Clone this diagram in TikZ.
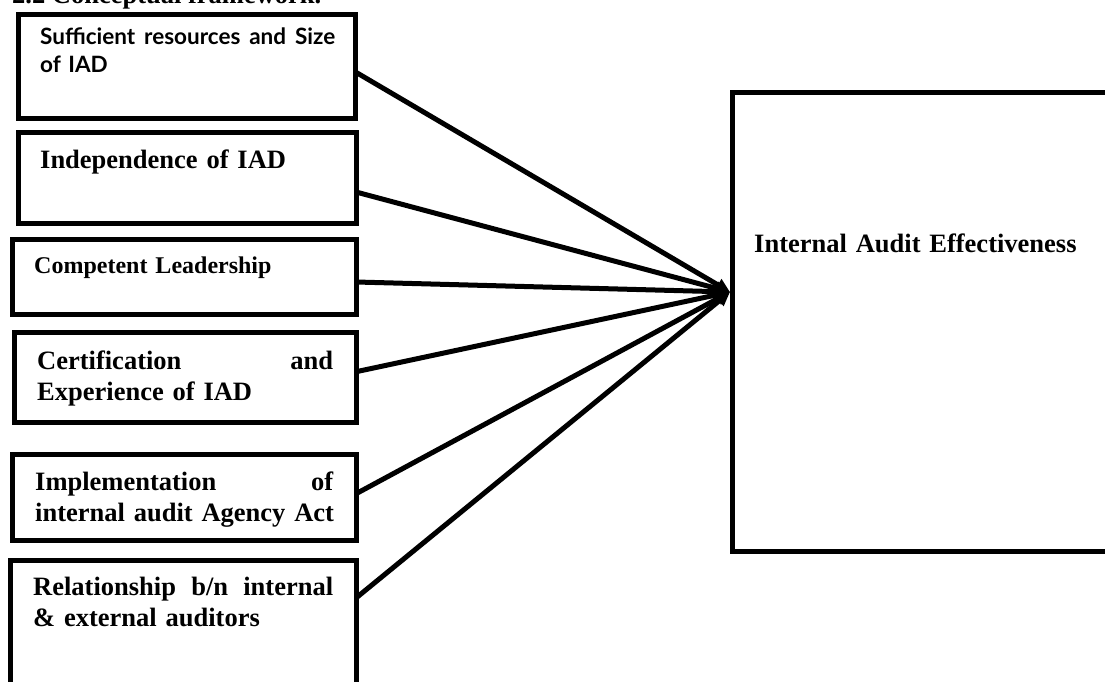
\documentclass[tikz,border=0pt]{standalone}
\usepackage{fontspec}
\setmainfont{Liberation Serif}
\newfontfamily\boxfont{Lato}
\usetikzlibrary{arrows.meta}

\begin{document}
\begin{tikzpicture}[x=1pt,y=-1pt,
	box/.style={draw,line width=5pt,anchor=north west,inner sep=0pt,outer sep=0pt},
	txt/.style={anchor=base west,inner sep=0pt,text width=296pt,align=left,font=\bfseries\fontsize{26.5}{31.5}\selectfont},
	link/.style={line width=5pt,-{Triangle[length=14pt,width=13pt]}}]
	\useasboundingbox (0,0) rectangle (1105,682);
	\clip (0,0) rectangle (1105,682);
	
	\node[anchor=base west,inner sep=0pt,font=\bfseries\fontsize{26.5}{31.5}\selectfont] (title) at (12,4) {2.2 Conceptual framework.};
	
	% factors
	\node[box,minimum width=337.5pt,minimum height=104.5pt] (b1) at (18,14.5) {};
	\node[box,minimum width=338pt,minimum height=90.5pt] (b2) at (18,132.5) {};
	\node[box,minimum width=343.5pt,minimum height=75pt] (b3) at (12.5,239) {};
	\node[box,minimum width=341.3pt,minimum height=90.5pt] (b4) at (14.7,332) {};
	\node[box,minimum width=343.5pt,minimum height=86.5pt] (b5) at (12.5,454) {};
	\node[box,minimum width=345.2pt,minimum height=130pt] (b6) at (10.8,560.5) {};
	
	\node[txt,text width=295pt,font=\boxfont\bfseries\fontsize{22.5}{28}\selectfont] (t1) at (40,45) {Sufficient\hfill resources\hfill and\hfill Size\\of IAD};
	\node[txt] (t2) at (40,168) {Independence of IAD};
	\node[txt,font=\bfseries\fontsize{24}{29}\selectfont] (t3) at (34,273) {Competent Leadership};
	\node[txt] (t4) at (37,369) {Certification\hfill and\\Experience of IAD};
	\node[txt,text width=298pt] (t5) at (35,490) {Implementation\hfill of\\\mbox{internal audit Agency Act}};
	\node[txt,text width=300pt] (t6) at (33,595) {Relationship\hfill b/n\hfill internal\\\& external auditors};
	
	% outcome
	\node[box,minimum width=400pt,minimum height=458.5pt] (iae) at (732.5,92.5) {};
	\node[txt,text width=330pt] (t7) at (754,252) {Internal Audit Effectiveness};
	\coordinate (tip) at ([xshift=-2.5pt,yshift=29.75pt]iae.west);
	
	\foreach \b/\s in {b1/-5.25,b2/-14.25,b3/-5.5,b4/5.5,b5/3.5,b6/27.5}
		\draw[link] ([yshift=\s pt]\b.east) -- (tip);
\end{tikzpicture}
\end{document}
